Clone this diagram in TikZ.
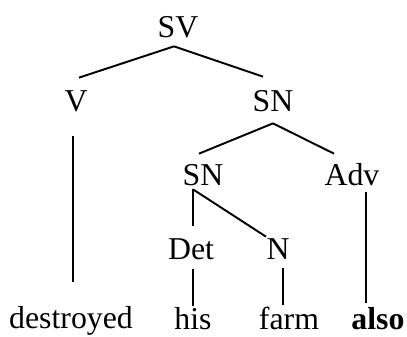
\documentclass[tikz,border=0pt]{standalone}
\usepackage{fontspec}
\setmainfont{Liberation Serif}
\usepackage{tikz}
\usetikzlibrary{positioning}
\tikzset{
    cat/.style={
        inner sep=0pt,
        text height=0.44cm,
        text depth=0.14cm,
        font=\fontsize{18.1pt}{22pt}\selectfont
    },
    word/.style={
        cat
    }
}
\tikzstyle{branch} = [line width=1.1pt]

\begin{document}
\begin{tikzpicture}[node distance=1.48cm]
          \useasboundingbox (-3.56,-6.13) rectangle (4.58,0.59);
          \node (SV) [cat] {SV};
          \node (V) [cat, below of=SV, xshift=-2.04cm] {V};
          \node (SN) [cat, below of=SV, xshift=1.9cm] {SN};
          \node (SNb) [cat, below of=SN, xshift=-1.4cm] {SN};
          \node (Adv) [cat, below of=SN, xshift=1.58cm] {Adv};
          \node (Det) [cat, below of=SNb, xshift=-0.24cm] {Det};
          \node (N) [cat, below of=SNb, xshift=1.5cm] {N};
          \node (destroyed) [word, below of=V, xshift=-0.1cm, yshift=-2.86cm] {destroyed};
          \node (his) [word, below of=Det, xshift=0.04cm, yshift=0.08cm] {his};
          \node (farm) [word, below of=N, xshift=0.22cm, yshift=0.08cm] {farm};
          \node (also) [word, below of=Adv, xshift=0.52cm, yshift=-1.4cm] {\textbf{also}};
          \draw [branch] ([xshift=-0.08cm,yshift=-0.04cm]SV.south) -- ([xshift=0.06cm,yshift=0.22cm]V.north);
          \draw [branch] ([xshift=-0.08cm,yshift=-0.04cm]SV.south) -- ([xshift=-0.2cm,yshift=0.24cm]SN.north);
          \draw [branch, shorten <=0.36cm, shorten >=0.48cm] ([xshift=-0.06cm]V.south) -- ([xshift=-0.06cm]V.south |- destroyed.north);
          \draw [branch] ([yshift=-0.1cm]SN.south) -- ([xshift=-0.08cm,yshift=0.18cm]SNb.north);
          \draw [branch] ([yshift=-0.1cm]SN.south) -- ([xshift=-0.36cm,yshift=0.18cm]Adv.north);
          \draw [branch, shorten >=0.22cm] ([xshift=-0.2cm,yshift=0.06cm]SNb.south) -- ([xshift=-0.2cm]SNb.south |- Det.north);
          \draw [branch] ([xshift=-0.2cm,yshift=0.06cm]SNb.south) -- ([xshift=-0.24cm]N.north);
          \draw [branch, shorten >=0.08cm] ([xshift=0.28cm]Adv.south) -- ([xshift=0.28cm]Adv.south |- also.north);
          \draw [branch, shorten <=0.06cm, shorten >=0.02cm] ([xshift=0.04cm]Det.south) -- ([xshift=0.04cm]Det.south |- his.north);
          \draw [branch, shorten <=0.04cm, shorten >=0.04cm] ([xshift=0.1cm]N.south) -- ([xshift=0.1cm]N.south |- farm.north);
        \end{tikzpicture}
\end{document}
